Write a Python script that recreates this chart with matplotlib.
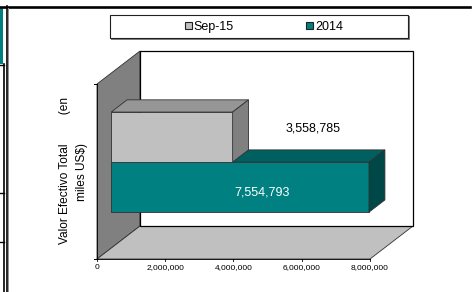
import matplotlib as mpl
mpl.use('agg')
import matplotlib.pyplot as plt
from matplotlib.patches import Polygon, Rectangle, Patch

plt.rcParams['font.family'] = ['Liberation Sans', 'DejaVu Sans']

# data
series = ['Sep-15', '2014']
values = [3558785, 7554793]
value_labels = ['3,558,785', '7,554,793']
front_colors = ['#C0C0C0', '#008080']
top_colors = ['#969696', '#006060']
side_colors = ['#808080', '#004848']
xticks = [0, 2000000, 4000000, 6000000, 8000000]
xtick_labels = ['0', '2,000,000', '4,000,000', '6,000,000', '8,000,000']

W, H = 472, 292
fig = plt.figure(figsize=(W / 100, H / 100), dpi=100)

# background slide decorations (pixel coords)
bg = fig.add_axes([0, 0, 1, 1])
bg.set_xlim(0, W)
bg.set_ylim(H, 0)
bg.axis('off')
bg.add_patch(Rectangle((0, 8), 3, 56, facecolor='#008080', edgecolor='none'))
bg.plot([0, 470], [6.5, 6.5], color='black', lw=1.9)
bg.plot([6.5, 6.5], [6, H], color='black', lw=1.2)
bg.plot([7.8, 7.8], [8, H], color='#909090', lw=0.7)
bg.plot([3.5, 3.5], [64, H], color='black', lw=1.2)
bg.plot([0, 4], [64.5, 64.5], color='black', lw=1.0)
bg.plot([0, 4], [193, 193], color='black', lw=1.0)
bg.plot([0, 4], [242, 242], color='black', lw=1.0)

# legend box
bg.add_patch(Rectangle((111, 16), 299, 24, facecolor='#808080', edgecolor='none'))
bg.add_patch(Rectangle((110, 15), 298, 23, facecolor='white', edgecolor='#202020', lw=0.8))

# main axes = front plane of 3D chart
x0, x1, ytop, ybot = 97, 370, 84, 259
ax = fig.add_axes([x0 / W, (H - ybot) / H, (x1 - x0) / W, (ybot - ytop) / H])
XMAX, YMAX = 8000000, 2.0
ax.set_xlim(0, XMAX)
ax.set_ylim(0, YMAX)
ax.axis('off')

DX = 43 / (x1 - x0) * XMAX
DY = 33 / (ybot - ytop) * YMAX


def proj(x, y, d):
    return (x + d * DX, y + d * DY)


def poly(pts, fc, ec='#303030', lw=0.6):
    ax.add_patch(Polygon([proj(*p) for p in pts], closed=True, facecolor=fc,
                         edgecolor=ec, lw=lw, clip_on=False))


# walls
poly([(0, 0, 0), (0, YMAX, 0), (0, YMAX, 1), (0, 0, 1)], '#808080')
poly([(0, 0, 0), (XMAX, 0, 0), (XMAX, 0, 1), (0, 0, 1)], '#C0C0C0')
poly([(0, 0, 1), (XMAX, 0, 1), (XMAX, YMAX, 1), (0, YMAX, 1)], 'white', ec='black', lw=0.9)

# bars (2014 lower, Sep-15 upper)
center, bh = 0.983, 0.572
bottoms = [center, center - bh]
df, db = 0.33, 0.70
for i in [1, 0]:
    v, b = values[i], bottoms[i]
    poly([(0, b, df), (v, b, df), (v, b + bh, df), (0, b + bh, df)], front_colors[i])
    poly([(0, b + bh, df), (v, b + bh, df), (v, b + bh, db), (0, b + bh, db)], top_colors[i])
    poly([(v, b, df), (v, b + bh, df), (v, b + bh, db), (v, b, db)], side_colors[i])

# data labels
label_x = [values[0] + 2770000, values[1] * 0.64]
label_y = [1.497, 0.755]
label_c = ['black', 'white']
for i in range(2):
    ax.text(label_x[i], label_y[i], value_labels[i], ha='center', va='center',
            fontsize=9, color=label_c[i])

# axis ticks and labels
ax.plot([0, 0], [0, YMAX], color='black', lw=0.6, clip_on=False)
ax.plot([0, XMAX], [0, 0], color='black', lw=0.6, clip_on=False)
for yt in [0, YMAX]:
    ax.plot([-100000, 0], [yt, yt], color='black', lw=0.7, clip_on=False)
for xt, lab in zip(xticks, xtick_labels):
    ax.plot([xt, xt], [0, -0.02], color='black', lw=0.6, clip_on=False)
    ax.text(xt, -0.1, lab, ha='center', va='center', fontsize=6)

# y label
fig.text(65 / W, 1 - 170 / H, 'Valor Efectivo Total         (en', rotation=90,
         ha='center', va='center', fontsize=8.6)
fig.text(82 / W, 1 - 172 / H, 'miles US$)', rotation=90,
         ha='center', va='center', fontsize=8.6)

# legend
handles = [Patch(facecolor=front_colors[i], edgecolor='#202020', lw=0.8, label=series[i])
           for i in range(2)]
fig.legend(handles=handles, loc='center', bbox_to_anchor=(264 / W, 1 - 27 / H),
           ncol=2, frameon=False, fontsize=9, handlelength=0.55, handleheight=0.55,
           handletextpad=0.15, columnspacing=5.8, borderpad=0)

fig.savefig('out.png', dpi=100)
